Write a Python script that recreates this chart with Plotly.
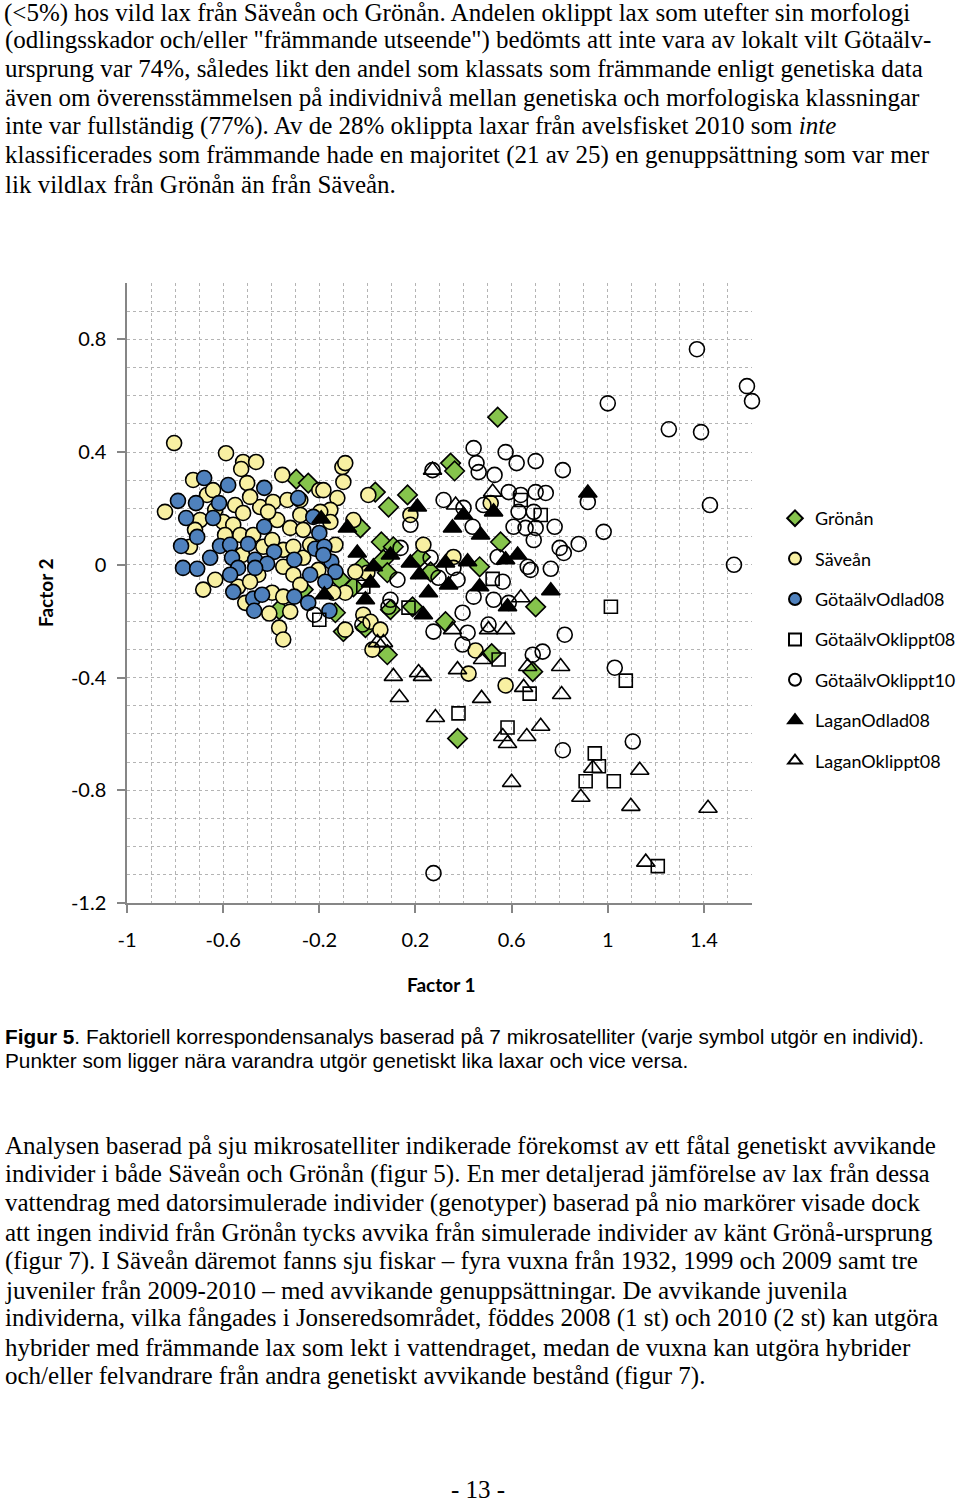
import plotly.graph_objects as go

W, H = 960, 1502

# ---------------- data (Factor 1, Factor 2) ----------------
gronan_x = [0.542, 0.346, 0.363, -0.296, -0.246, 0.033, 0.088, 0.167, -0.029, 0.058, 0.108, 0.221, 0.263,
            0.554, 0.467, 0.067, 0.083, -0.021, -0.058, -0.113, 0.096, 0.188, -0.133, 0.325, 0.700, -0.267,
            -0.367, -0.100, -0.008, 0.083, 0.517, 0.688, 0.375]
gronan_y = [0.524, 0.361, 0.333, 0.304, 0.290, 0.258, 0.205, 0.248, 0.131, 0.081, 0.064, 0.028, -0.025,
            0.081, -0.007, 0.018, -0.028, -0.007, -0.078, -0.053, -0.159, -0.149, -0.170, -0.202, -0.149, -0.088,
            -0.159, -0.237, -0.223, -0.319, -0.315, -0.379, -0.616]

savean_x = [-0.804, -0.588, -0.517, -0.463, -0.525, -0.104, -0.092, -0.354, -0.725, -0.500, -0.200, -0.667,
            -0.842, -0.550, -0.517, -0.446, -0.392, -0.333, -0.279, -0.125, -0.100, -0.154, -0.183, -0.696,
            -0.600, -0.558, -0.375, -0.321, -0.267, -0.529, -0.475, -0.738, -0.433, -0.350, -0.308, -0.521,
            -0.267, -0.350, -0.308, -0.538, -0.683, -0.396, -0.350, -0.408, -0.367, -0.350, 0.004, 0.179,
            -0.058, 0.233, 0.358, 0.000, -0.050, -0.092, -0.142, -0.017, 0.013, -0.092, 0.054, 0.021, 0.513,
            0.450, 0.421, 0.575, -0.196, -0.238, -0.454, -0.633,
            -0.642, -0.488, -0.413, -0.279, -0.592, -0.396, -0.633, -0.488, -0.279, -0.508, -0.321, -0.717,
            -0.154, -0.133, -0.204]
savean_y = [0.432, 0.396, 0.365, 0.365, 0.340, 0.347, 0.361, 0.319, 0.301, 0.290, 0.265, 0.248,
            0.188, 0.212, 0.184, 0.205, 0.223, 0.230, 0.230, 0.237, 0.294, 0.195, 0.265, 0.159,
            0.152, 0.142, 0.159, 0.131, 0.124, 0.106, 0.106, 0.064, 0.064, 0.053, 0.064, 0.035,
            0.025, -0.007, -0.035, -0.078, -0.088, -0.099, -0.113, -0.173, -0.223, -0.265, 0.248, 0.177,
            0.159, 0.071, 0.028, -0.028, -0.025, -0.099, -0.099, -0.177, -0.202, -0.230, -0.230, -0.301, 0.219,
            -0.304, -0.386, -0.428, 0.188, 0.071, -0.035, 0.195,
            0.265, 0.241, 0.188, 0.177, 0.106, 0.088, -0.053, -0.060, -0.071, -0.135, -0.166, 0.124,
            0.152, 0.071, -0.018]

odlad_x = [-0.679, -0.579, -0.429, -0.288, -0.788, -0.713, -0.617, -0.754, -0.642, -0.429, -0.225, -0.200,
           -0.708, -0.775, -0.613, -0.571, -0.496, -0.388, -0.217, -0.179, -0.654, -0.563, -0.467, -0.417,
           -0.304, -0.150, -0.133, -0.767, -0.708, -0.538, -0.467, -0.238, -0.571, -0.558, -0.475, -0.438,
           -0.304, -0.246, -0.175, -0.471, -0.158, -0.183]
odlad_y = [0.308, 0.283, 0.273, 0.237, 0.227, 0.219, 0.219, 0.166, 0.166, 0.135, 0.170, 0.113,
           0.099, 0.067, 0.067, 0.071, 0.074, 0.046, 0.057, 0.064, 0.025, 0.025, 0.018, 0.004,
           0.018, 0.011, -0.025, -0.011, -0.014, -0.011, -0.011, -0.035, -0.035, -0.096, -0.120, -0.106,
           -0.113, -0.135, -0.060, -0.163, -0.163, 0.035]

oklippt08_x = [0.638, 0.721, 0.521, 1.013, 1.075, 0.546, 0.675, 0.379, 0.583, 0.946, 0.963, 0.908, 1.025,
               1.208, -0.200, -0.017, 0.171]
oklippt08_y = [0.230, 0.177, -0.050, -0.149, -0.411, -0.336, -0.457, -0.527, -0.577, -0.669, -0.715, -0.768,
               -0.768, -1.069, -0.195, -0.078, -0.152]

oklippt10_x = [1.371, 1.579, 1.600, 1.000, 1.254, 1.388, 0.442, 0.454, 0.463, 0.529, 0.575, 0.621, 0.700,
               0.813, 0.271, 1.425, 1.525, 0.983, 0.821, 1.029, 1.104, 0.813, 0.275, 0.917, 0.700, 0.742,
               0.692, 0.779, 0.692, 0.879, 0.800, 0.817, 0.763, 0.679, 0.317, 0.400, 0.483, 0.588, 0.638,
               0.629, 0.438, 0.608, 0.658, 0.700, 0.179, 0.542, 0.667, 0.138, 0.263, 0.358, 0.375, 0.442,
               0.296, 0.563, 0.525, 0.125, 0.096, 0.088, 0.396, 0.588, 0.275, 0.504, 0.688, 0.729, 0.396,
               0.417, -0.221, -0.021]
oklippt10_y = [0.765, 0.634, 0.581, 0.573, 0.481, 0.471, 0.414, 0.361, 0.329, 0.319, 0.400, 0.361, 0.368,
               0.336, 0.336, 0.212, 0.000, 0.117, -0.248, -0.365, -0.627, -0.658, -1.094, 0.223, 0.258, 0.255,
               0.188, 0.135, 0.088, 0.074, 0.060, 0.042, -0.014, -0.018, 0.230, 0.202, 0.212, 0.258, 0.248,
               0.188, 0.135, 0.135, 0.131, 0.131, 0.142, 0.028, -0.007, 0.060, 0.025, -0.011, -0.053, -0.113,
               -0.046, -0.060, -0.124, -0.053, -0.124, -0.149, -0.170, -0.135, -0.237, -0.212, -0.319, -0.308, -0.283,
               -0.241, -0.177, -0.212]

laganodlad_x = [0.917, -0.192, -0.179, 0.208, 0.400, 0.354, 0.525, 0.471, 0.575, 0.625, -0.083, 0.096, 0.179,
                0.325, 0.417, 0.467, 0.338, 0.217, 0.254, -0.042, 0.025, 0.013, -0.008, 0.233, 0.583, 0.763]
laganodlad_y = [0.255, 0.163, -0.106, 0.205, 0.177, 0.131, 0.188, 0.106, 0.018, 0.035, 0.131, 0.035, 0.007,
                0.007, 0.011, -0.078, -0.071, -0.035, -0.099, 0.042, -0.007, -0.064, -0.124, -0.177, -0.149, -0.092]

laganoklippt_x = [0.271, 0.367, 0.521, 0.638, 0.354, 0.504, 0.575, 0.042, 0.067, 0.108, 0.213, 0.229, 0.133,
                  0.283, 0.804, 0.667, 0.650, 0.808, 0.479, 0.375, 0.475, 0.563, 0.583, 0.663, 0.721, 0.938,
                  0.888, 1.133, 1.096, 1.417, 0.600, 1.158]
laganoklippt_y = [0.336, 0.212, 0.258, -0.117, -0.230, -0.230, -0.230, -0.276, -0.276, -0.396, -0.382, -0.396,
                  -0.471, -0.542, -0.361, -0.361, -0.435, -0.460, -0.336, -0.372, -0.474, -0.609, -0.634, -0.609,
                  -0.573, -0.722, -0.825, -0.729, -0.857, -0.864, -0.772, -1.055]

series_names = ["Grönån", "Säveån", "GötaälvOdlad08", "GötaälvOklippt08",
                "GötaälvOklippt10", "LaganOdlad08", "LaganOklippt08"]

x_ticks = [-1, -0.6, -0.2, 0.2, 0.6, 1, 1.4]
y_ticks = [-1.2, -0.8, -0.4, 0, 0.4, 0.8]

para1 = [
    "(&lt;5%) hos vild lax från Säveån och Grönån. Andelen oklippt lax som utefter sin morfologi",
    "(odlingsskador och/eller \"främmande utseende\") bedömts att inte vara av lokalt vilt Götaälv-",
    "ursprung var 74%, således likt den andel som klassats som främmande enligt genetiska data",
    "även om överensstämmelsen på individnivå mellan genetiska och morfologiska klassningar",
    "inte var fullständig (77%). Av de 28% oklippta laxar från avelsfisket 2010 som <i>inte</i>",
    "klassificerades som främmande hade en majoritet (21 av 25) en genuppsättning som var mer",
    "lik vildlax från Grönån än från Säveån.",
]
caption = [
    "<b>Figur 5</b>. Faktoriell korrespondensanalys baserad på 7 mikrosatelliter (varje symbol utgör en individ).",
    "Punkter som ligger nära varandra utgör genetiskt lika laxar och vice versa.",
]
para2 = [
    "Analysen baserad på sju mikrosatelliter indikerade förekomst av ett fåtal genetiskt avvikande",
    "individer i både Säveån och Grönån (figur 5). En mer detaljerad jämförelse av lax från dessa",
    "vattendrag med datorsimulerade individer (genotyper) baserad på nio markörer visade dock",
    "att ingen individ från Grönån tycks avvika från simulerade individer av känt Grönå-ursprung",
    "(figur 7). I Säveån däremot fanns sju fiskar – fyra vuxna från 1932, 1999 och 2009 samt tre",
    "juveniler från 2009-2010 – med avvikande genuppsättningar. De avvikande juvenila",
    "individerna, vilka fångades i Jonseredsområdet, föddes 2008 (1 st) och 2010 (2 st) kan utgöra",
    "hybrider med främmande lax som lekt i vattendraget, medan de vuxna kan utgöra hybrider",
    "och/eller felvandrare från andra genetiskt avvikande bestånd (figur 7).",
]
page_no = "- 13 -"

# ---------------- figure ----------------
def px(x):
    return x / W


def py(y):
    return 1 - y / H


OUT = 1.6
GREEN = "#86C44C"
YELLOW = "#F8F0A2"
BLUE = "#4F81BD"

fig = go.Figure()
styles = [
    (gronan_x, gronan_y, dict(symbol="diamond", size=15, color=GREEN, line=dict(color="black", width=OUT))),
    (savean_x, savean_y, dict(symbol="circle", size=15, color=YELLOW, line=dict(color="black", width=OUT))),
    (odlad_x, odlad_y, dict(symbol="circle", size=15, color=BLUE, line=dict(color="black", width=OUT))),
    (oklippt08_x, oklippt08_y, dict(symbol="square-open", size=13, color="black", line=dict(color="black", width=OUT))),
    (oklippt10_x, oklippt10_y, dict(symbol="circle-open", size=15, color="black", line=dict(color="black", width=OUT))),
    (laganodlad_x, laganodlad_y, dict(symbol="triangle-up", size=16, color="black", line=dict(color="black", width=OUT))),
    (laganoklippt_x, laganoklippt_y, dict(symbol="triangle-up-open", size=16, color="black", line=dict(color="black", width=OUT))),
]
for i, (xs, ys, mk) in enumerate(styles):
    fig.add_trace(go.Scatter(x=xs, y=ys, mode="markers", name=series_names[i], marker=mk,
                             legendgroup=f"g{i}", cliponaxis=False))

GRID = "#B4B4B4"
AX = "#868686"
TICKFONT = dict(family="Lato", size=20, color="black")
fig.update_layout(
    width=W, height=H, autosize=False,
    margin=dict(l=0, r=0, t=0, b=0, autoexpand=False),
    paper_bgcolor="white", plot_bgcolor="white",
    font=dict(family="Lato", color="black"),
    showlegend=True,
    legend=dict(x=px(775), y=py(500), xanchor="left", yanchor="top",
                font=dict(family="Lato", size=18, color="black"),
                tracegroupgap=14, itemsizing="constant", bgcolor="rgba(0,0,0,0)"),
    xaxis=dict(domain=[px(127), px(752)], range=[-1, 1.6], tickvals=x_ticks,
               ticktext=[f"{v:g}" for v in x_ticks],
               showgrid=True, gridcolor=GRID, griddash="dot", gridwidth=1,
               minor=dict(dtick=0.1, tick0=-1, showgrid=True, gridcolor=GRID, griddash="dot", gridwidth=1),
               showline=True, linecolor=AX, linewidth=1.5, ticks="outside", ticklen=8, tickcolor=AX,
               tickwidth=1.5, tickfont=TICKFONT, ticklabelstandoff=10,
               zeroline=False, fixedrange=True),
    yaxis=dict(domain=[py(903), py(283)], range=[-1.2, 1.0], tickvals=y_ticks,
               ticktext=[f"{v:g}" for v in y_ticks],
               showgrid=True, gridcolor=GRID, griddash="dot", gridwidth=1,
               minor=dict(dtick=0.1, tick0=-1.2, showgrid=True, gridcolor=GRID, griddash="dot", gridwidth=1),
               showline=True, linecolor=AX, linewidth=1.5, ticks="outside", ticklen=8, tickcolor=AX,
               tickwidth=1.5, tickfont=TICKFONT, ticklabelstandoff=7,
               zeroline=False, fixedrange=True),
)

ann = []
# axis titles
ann.append(dict(text="<b>Factor 1</b>", x=px(441), y=py(984), xref="paper", yref="paper",
                showarrow=False, font=dict(family="Lato", size=19, color="black"), xanchor="center", yanchor="middle"))
ann.append(dict(text="<b>Factor 2</b>", x=px(45), y=py(593), xref="paper", yref="paper", textangle=-90,
                showarrow=False, font=dict(family="Lato", size=19, color="black"), xanchor="center", yanchor="middle"))

serif = dict(family="Liberation Serif", size=25, color="black")
p1_y = [13, 40, 69, 97, 126, 155, 184]
for k, (t, yy) in enumerate(zip(para1, p1_y)):
    a = dict(text=t, x=px(3), y=py(yy), xref="paper", yref="paper", showarrow=False,
             font=serif, xanchor="left", yanchor="middle")
    if k == 0:
        a.update(borderpad=0, height=26, valign="middle")
    ann.append(a)

cap_y = [1036, 1060]
for t, yy in zip(caption, cap_y):
    ann.append(dict(text=t, x=px(3), y=py(yy), xref="paper", yref="paper", showarrow=False,
                    font=dict(family="Liberation Sans", size=20.8, color="black"), xanchor="left", yanchor="middle"))

p2_y = [1145, 1174, 1203, 1232, 1261, 1290, 1318, 1347, 1376]
for t, yy in zip(para2, p2_y):
    ann.append(dict(text=t, x=px(3), y=py(yy), xref="paper", yref="paper", showarrow=False,
                    font=serif, xanchor="left", yanchor="middle"))

ann.append(dict(text=page_no, x=px(478), y=py(1489), xref="paper", yref="paper", showarrow=False,
                font=serif, xanchor="center", yanchor="middle", borderpad=0, height=22, valign="middle"))

fig.update_layout(annotations=ann)
# the page itself has no margin so the figure starts at the window's corner
fig.write_html("out.html", config={"displayModeBar": False},
               post_script="document.body.style.margin='0px';")
